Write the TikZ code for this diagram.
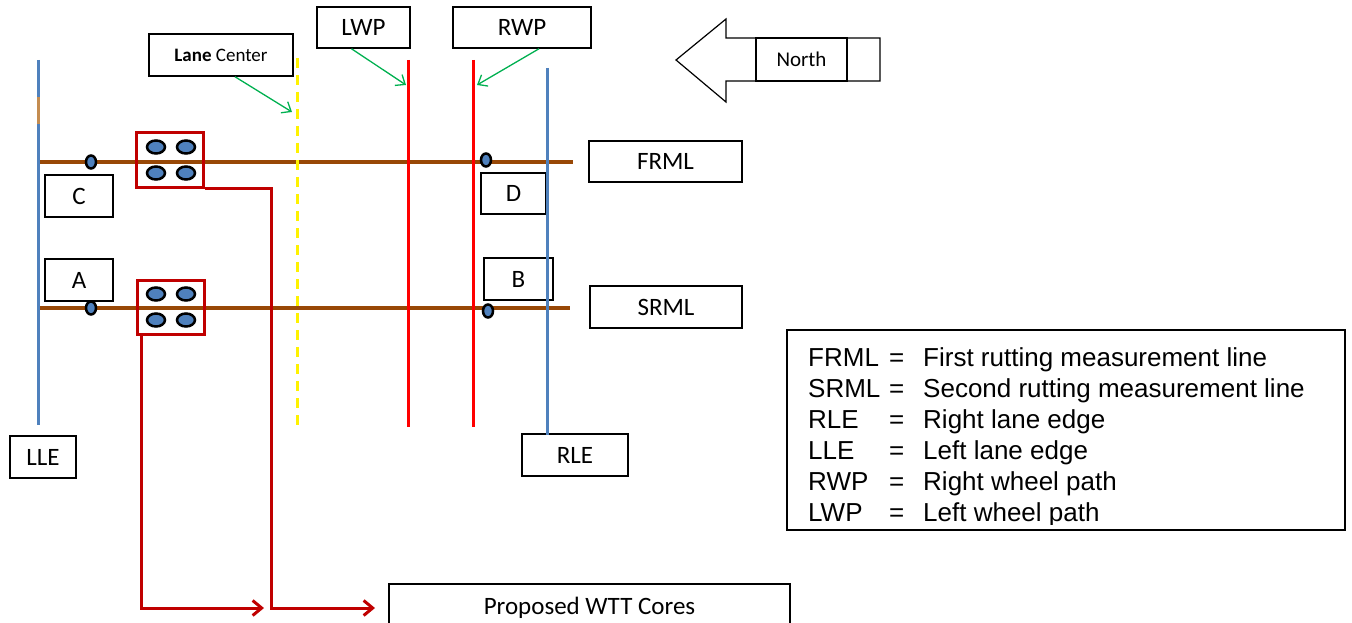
\documentclass[tikz,border=0pt]{standalone}
\usepackage{fontspec}
\usetikzlibrary{arrows.meta}
\newfontfamily\calib{Carlito}
\newfontfamily\arialf{Liberation Sans}
\definecolor{edgeblue}{RGB}{79,129,189}
\definecolor{rutbrown}{RGB}{152,72,6}
\definecolor{tanpatch}{RGB}{196,140,80}
\definecolor{corered}{RGB}{192,0,0}
\definecolor{pathred}{RGB}{255,0,0}
\definecolor{pointgreen}{RGB}{0,176,80}
\tikzset{
  lbl/.style={draw, line width=1.5pt, inner sep=0pt, font=\calib\fontsize{25}{30}\selectfont},
  corebox/.style={draw=corered, line width=3pt, inner sep=0pt, minimum width=67pt, minimum height=54pt},
  corepin/.style={fill=edgeblue, draw=black, line width=2.5pt},
  pointer/.style={pointgreen, line width=1.3pt, -{Straight Barb[length=8pt,width=13pt]}},
  corearrow/.style={corered, line width=3pt, -{Straight Barb[length=9pt,width=15pt]}},
  keytext/.style={anchor=base west, inner sep=0pt, font=\arialf\fontsize{26}{30}\selectfont}
}
\begin{document}
\begin{tikzpicture}[x=1pt,y=-1pt]
\useasboundingbox (0,0) rectangle (1352,623);

% Draw the label boxes
\node[lbl, minimum width=144pt, minimum height=42pt] (lanec) at (221,55) {\fontsize{19}{22}\selectfont\textbf{Lane} Center};
\node[lbl, minimum width=93pt, minimum height=41pt] (lwp) at (363.5,27.5) {LWP};
\node[lbl, minimum width=138pt, minimum height=41pt] (rwp) at (522,27.5) {RWP};
\node[lbl, minimum width=153pt, minimum height=41pt] (frml) at (665.5,161.5) {FRML};
\node[lbl, minimum width=152pt, minimum height=42pt] (srml) at (666,307) {SRML};
\node[lbl, minimum width=68pt, minimum height=42pt] (ptc) at (79,196) {C};
\node[lbl, minimum width=65pt, minimum height=41pt] (ptd) at (513.5,193.5) {D};
\node[lbl, minimum width=68pt, minimum height=42pt] (pta) at (79,280) {A};
\node[lbl, minimum width=69pt, minimum height=42pt] (ptb) at (518.5,279) {B};
\node[lbl, minimum width=66pt, minimum height=42pt] (lle) at (43,457) {LLE};
\node[lbl, minimum width=106pt, minimum height=42pt] (rle) at (575,455) {RLE};
\node[lbl, minimum width=401pt, minimum height=48pt] (wtt) at (589.5,608) {Proposed WTT Cores};

% Draw the north arrow
\draw[line width=1.2pt] (880,38) -- (726,38) -- (726,19) -- (676,60) -- (726,102) -- (726,81) -- (880,81) -- cycle;
\node[lbl, minimum width=91pt, minimum height=43pt, font=\calib\fontsize{21}{25}\selectfont] (north) at (801.5,59.5) {North};

% Draw rutting measurement lines
\draw[rutbrown, line width=3.5pt] (38,162) -- (573,162);
\draw[rutbrown, line width=3.5pt] (38,308) -- (570,308);

% Draw lane edges, wheel paths and lane center
\draw[edgeblue, line width=3pt] (38,60) -- (38,425);
\draw[tanpatch, line width=3pt] (38,97) -- (38,124);
\draw[edgeblue, line width=3pt] (547,68) -- (547,435);
\draw[pathred, line width=3pt] (408,60) -- (408,427);
\draw[pathred, line width=3pt] (473,60) -- (473,427);
\draw[yellow, line width=3pt, dash pattern=on 10pt off 7pt] (297,58) -- (297,425);

% Draw the pointers
\coordinate (lctip) at (292,112);
\coordinate (lwptip) at (406,85);
\coordinate (rwptip) at (477,85);
\draw[pointer] ([xshift=14pt]lanec.south) -- (lctip);
\draw[pointer] ([xshift=-12pt]lwp.south) -- (lwptip);
\draw[pointer] ([xshift=17pt]rwp.south) -- (rwptip);

% Draw the core boxes
\node[corebox] (coretop) at (169.5,160) {};
\node[corebox] (corebot) at (170.5,307) {};
\foreach \dx in {-13.5,16.5}
  \foreach \dy in {-13,13} {
    \filldraw[corepin] ([shift={(\dx,\dy)}]coretop.center) ellipse (9pt and 6.5pt);
    \filldraw[corepin] ([shift={(\dx-1,\dy)}]corebot.center) ellipse (9pt and 6.5pt);
  }

% Draw the rut points
\filldraw[corepin] (91,162) ellipse (5pt and 6.5pt);
\filldraw[corepin] (486,160) ellipse (5pt and 6.5pt);
\filldraw[corepin] (91,308) ellipse (5pt and 6.5pt);
\filldraw[corepin] (488,311) ellipse (5pt and 6.5pt);

% Draw the core arrows
\coordinate (tipa) at (375,608);
\coordinate (tipb) at (264,608);
\draw[corearrow] (coretop.south east) -- ++(67,0) |- (tipa);
\draw[corearrow] ([xshift=6pt]corebot.south west) |- (tipb);

% Draw the legend
\draw[line width=1.5pt] (787,330) rectangle (1345,530);
\begin{scope}
  \clip (788,331) rectangle (1344,524);
  \foreach \abbr/\desc [count=\i] in {FRML/First rutting measurement line,
      SRML/Second rutting measurement line, RLE/Right lane edge,
      LLE/Left lane edge, RWP/Right wheel path, LWP/Left wheel path} {
    \node[keytext] (key\i) at (808,335+31*\i) {\abbr};
    \node[keytext] (eq\i) at (889,335+31*\i) {=};
    \node[keytext] (txt\i) at (923,335+31*\i) {\desc};
  }
\end{scope}
\end{tikzpicture}
\end{document}
